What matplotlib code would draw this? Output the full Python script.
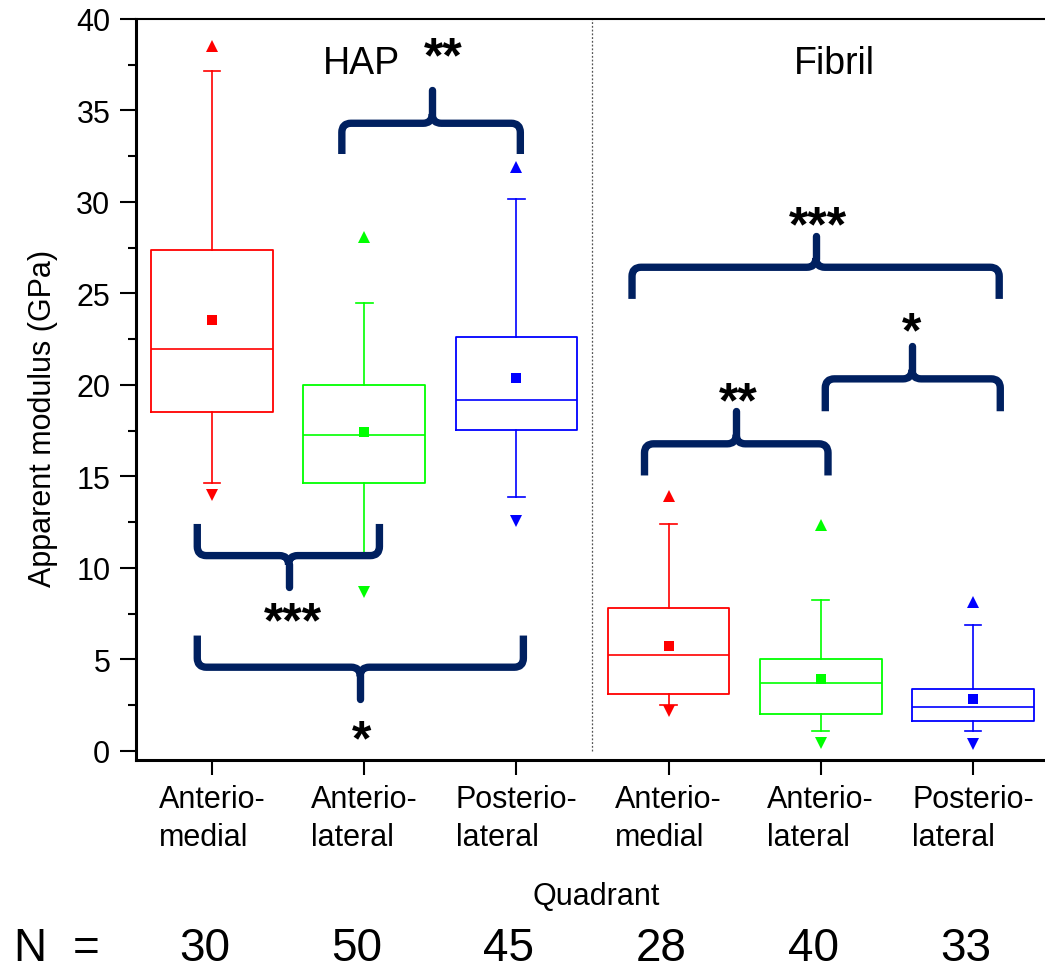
import numpy as np
from matplotlib import pyplot as plt
from matplotlib import rc
from matplotlib.path import Path
from matplotlib.patches import PathPatch
import matplotlib.transforms as mtransforms

rc('font', **{'family': 'sans-serif', 'sans-serif': ['Liberation Sans', 'DejaVu Sans']})

# quadrant data (GPa), HAP then Fibril
labels = ['Anterio-\nmedial', 'Anterio-\nlateral', 'Posterio-\nlateral',
          'Anterio-\nmedial', 'Anterio-\nlateral', 'Posterio-\nlateral']
n_counts = [30, 50, 45, 28, 40, 33]
q1 = [18.54, 14.66, 17.56, 3.08, 2.02, 1.62]
median = [21.97, 17.28, 19.16, 5.23, 3.68, 2.39]
q3 = [27.40, 19.98, 22.64, 7.78, 5.03, 3.37]
mean = [23.55, 17.41, 20.35, 5.75, 3.93, 2.84]
whis_lo = [14.63, 10.70, 13.90, 2.48, 1.06, 1.11]
whis_hi = [37.18, 24.48, 30.16, 12.40, 8.25, 6.90]
val_min = [14.00, 8.67, 12.58, 2.20, 0.42, 0.38]
val_max = [38.54, 28.07, 31.90, 13.95, 12.35, 8.16]
colors = ['#ff0000', '#00ff00', '#0000ff', '#ff0000', '#00ff00', '#0000ff']

# significance braces: left x, right x, tip x, bar y, end y, tip y
braces = [
    (1.853, 3.026, 2.447, 34.30, 32.62, 36.10),
    (0.903, 2.100, 1.503, 10.67, 12.40, 8.95),
    (0.903, 3.046, 1.974, 4.57, 6.30, 2.85),
    (3.842, 5.048, 4.445, 16.78, 15.05, 18.60),
    (5.030, 6.180, 5.600, 20.33, 18.56, 22.10),
    (3.760, 6.173, 4.968, 26.43, 24.70, 28.15),
]
stars = ['**', '***', '*', '**', '*', '***']
star_xy = [(2.518, 38.54), (1.532, 7.67), (1.986, 1.20),
           (4.456, 19.69), (5.597, 23.51), (4.985, 29.32)]

brace_color = '#002060'


def draw_brace(ax, x0, x1, xt, ybar, yend, ytip, rx=0.06, ry=0.5):
    """
    curly bracket made of two halves meeting at the tip
    """
    s = 1.0 if ytip > ybar else -1.0
    for xe, d in ((x0, 1.0), (x1, -1.0)):
        verts = [(xe, yend), (xe, ybar - s*ry), (xe, ybar), (xe + d*rx, ybar),
                 (xt - d*rx, ybar), (xt, ybar), (xt, ybar + s*ry)]
        codes = [Path.MOVETO, Path.LINETO, Path.CURVE3, Path.CURVE3,
                 Path.LINETO, Path.CURVE3, Path.CURVE3]
        ax.add_patch(PathPatch(Path(verts, codes), fill=False, lw=5.3,
                               edgecolor=brace_color, capstyle='butt',
                               joinstyle='round', zorder=5))
    ax.plot([xt, xt], [ybar + s*ry*0.9, ytip], color=brace_color, lw=5.3,
            solid_capstyle='round', zorder=5)


def make_plot():
    fig = plt.figure(figsize=(10.45, 9.7), dpi=100)
    ax = fig.add_axes([0.1301, 0.2155, 0.8737, 0.7639])

    x = np.arange(1, 7)
    stats = []
    for i in range(6):
        stats.append(dict(med=median[i], q1=q1[i], q3=q3[i], mean=mean[i],
                          whislo=whis_lo[i], whishi=whis_hi[i], fliers=[]))
    arts = ax.bxp(stats, positions=x, widths=0.8, capwidths=0.11,
                  showmeans=True, showfliers=False,
                  boxprops=dict(lw=1.3), medianprops=dict(lw=1.2),
                  whiskerprops=dict(lw=1.2), capprops=dict(lw=1.2),
                  meanprops=dict(marker='s', markersize=7, markeredgewidth=0))
    for i, c in enumerate(colors):
        arts['boxes'][i].set_color(c)
        arts['medians'][i].set_color(c)
        arts['means'][i].set_markerfacecolor(c)
        for a in (arts['whiskers'][2*i], arts['whiskers'][2*i + 1],
                  arts['caps'][2*i], arts['caps'][2*i + 1]):
            a.set_color(c)
        ax.plot(x[i], val_max[i], '^', color=c, markersize=9, markeredgewidth=0)
        ax.plot(x[i], val_min[i], 'v', color=c, markersize=9, markeredgewidth=0)

    ax.plot([3.5, 3.5], [0, 40], ls=(0, (1.5, 1.5)), color='#555555', lw=0.9)

    for b in braces:
        draw_brace(ax, *b)
    for s, (sx, sy) in zip(stars, star_xy):
        ax.text(sx, sy - 1.4, s, ha='center', va='baseline', fontsize=36,
                fontweight='bold', zorder=6)

    ax.text(1.979, 37.05, 'HAP', ha='center', va='baseline', fontsize=27)
    ax.text(5.093, 37.05, 'Fibril', ha='center', va='baseline', fontsize=27)

    ax.set_xlim(0.5, 6.5)
    ax.set_ylim(-0.5, 40)
    ax.set_yticks(np.arange(0, 41, 5))
    ax.set_yticks(np.arange(2.5, 40, 5), minor=True)
    ax.set_xticks(x)
    ax.set_xticklabels(labels, multialignment='left', linespacing=1.35)
    ax.tick_params(axis='y', which='major', length=11.5, width=1.5,
                   labelsize=22, pad=7)
    ax.tick_params(axis='y', which='minor', length=6, width=1.5)
    ax.tick_params(axis='x', length=11, width=1.5, labelsize=22, pad=6)

    ax.spines['right'].set_visible(False)
    ax.spines['left'].set_linewidth(2.2)
    ax.spines['bottom'].set_linewidth(2.2)
    ax.spines['top'].set_linewidth(1.5)

    ax.set_xlabel('Quadrant', fontsize=22, va='baseline')
    ax.xaxis.set_label_coords(0.504, -0.1943)
    ax.set_ylabel('Apparent modulus (GPa)', fontsize=22)
    ax.yaxis.set_label_coords(-0.085, 0.462)

    # sample sizes under each quadrant
    trans = mtransforms.blended_transform_factory(ax.transData, fig.transFigure)
    fig.text(13/1045, 0.009, 'N', ha='left', va='baseline', fontsize=33)
    fig.text(86/1045, 0.009, '=', ha='center', va='baseline', fontsize=33)
    for xi, n in zip(x, n_counts):
        ax.text(xi - 0.05, 0.009, str(n), transform=trans, ha='center',
                va='baseline', fontsize=33, clip_on=False)

    fig.savefig('out.png', dpi=100)


def main():
    make_plot()

if __name__ == '__main__':
    main()
